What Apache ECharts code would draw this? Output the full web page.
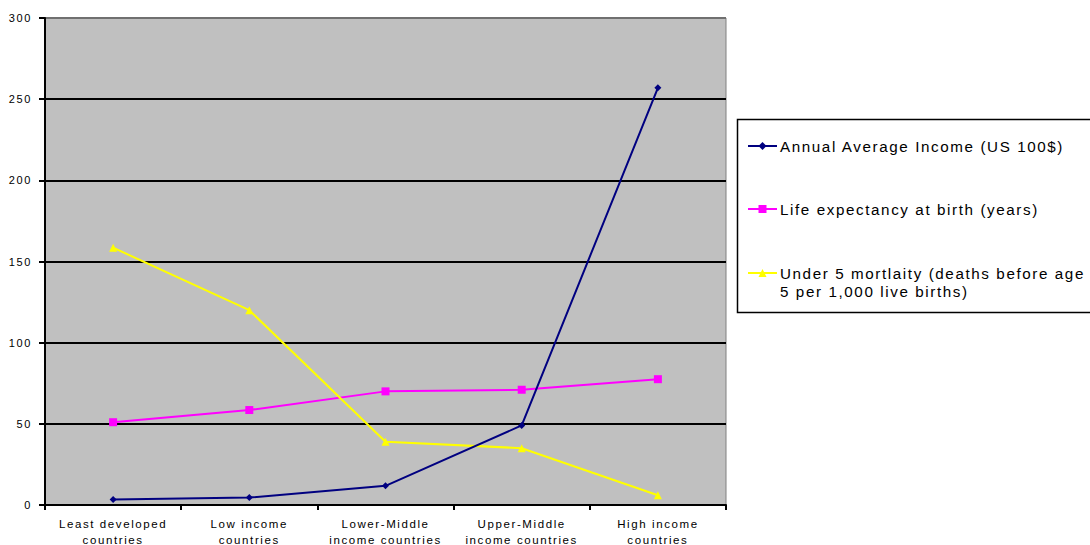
<!DOCTYPE html>
<html>
<head>
<meta charset="utf-8">
<script src="https://cdn.jsdelivr.net/npm/echarts@6/dist/echarts.min.js"></script>
<style>
  html, body { margin: 0; padding: 0; background: #ffffff; }
  #chart { width: 1090px; height: 545px; }
  /* the chart text is set wide, with extra space between letters */
  #chart svg text { letter-spacing: 1.6px; }
</style>
</head>
<body>
<div id="chart"></div>
<script>
// Income groups along the x axis
const categories = [
  'Least developed\ncountries',
  'Low income\ncountries',
  'Lower-Middle\nincome countries',
  'Upper-Middle\nincome countries',
  'High income\ncountries'
];

// Series names
const incomeName = 'Annual Average Income (US 100$)';
const lifeName = 'Life expectancy at birth (years)';
const mortalityName = 'Under 5 mortlaity (deaths before age 5 per 1,000 live births)';

// Values per income group
const income = [3.4, 4.6, 11.8, 49, 257];
const lifeExpectancy = [51, 58.5, 70, 71, 77.5];
const under5Mortality = [158.5, 120, 39, 35, 6];

// Value axis range
const yMin = 0;
const yMax = 300;
const yStep = 50;

const font = '"Liberation Sans", Arial, sans-serif';

const chart = echarts.init(document.getElementById('chart'), null, { renderer: 'svg' });

function legendAt(name, top, formatter) {
  return {
    data: [name],
    left: 747,
    top: top,
    padding: 0,
    itemWidth: 29,
    itemHeight: 10,
    itemGap: 0,
    selectedMode: false,
    formatter: formatter,
    textStyle: {
      fontFamily: font,
      fontSize: 15.2,
      lineHeight: 18,
      color: '#000000',
      padding: [0, 0, 0, -2]
    }
  };
}

chart.setOption({
  animation: false,
  backgroundColor: '#ffffff',
  textStyle: { fontFamily: font },
  grid: {
    left: 45,
    right: 364,
    top: 18,
    bottom: 40,
    outerBoundsMode: 'none',
    containLabel: false,
    show: true,
    backgroundColor: '#c0c0c0',
    borderColor: '#808080',
    borderWidth: 1
  },
  legend: [
    legendAt(incomeName, 137),
    legendAt(lifeName, 200),
    legendAt(mortalityName, 246, function () {
      return '\nUnder 5 mortlaity (deaths before age\n5 per 1,000 live births)';
    })
  ],
  graphic: [{
    type: 'rect',
    shape: { x: 737.5, y: 119.5, width: 380, height: 193 },
    style: { fill: 'none', stroke: '#000000', lineWidth: 1.5 },
    silent: true,
    z: -1
  }],
  xAxis: {
    type: 'category',
    data: categories,
    boundaryGap: true,
    axisLine: { show: true, lineStyle: { color: '#000000', width: 2 } },
    axisTick: { show: true, alignWithLabel: false, length: 5, lineStyle: { color: '#000000', width: 2 } },
    axisLabel: {
      color: '#000000',
      fontSize: 11.5,
      lineHeight: 16,
      margin: 11,
      interval: 0
    },
    splitLine: { show: false }
  },
  yAxis: {
    type: 'value',
    min: yMin,
    max: yMax,
    interval: yStep,
    axisLine: { show: true, lineStyle: { color: '#000000', width: 2 } },
    axisTick: { show: true, length: 6, lineStyle: { color: '#000000', width: 2 } },
    axisLabel: { color: '#000000', fontSize: 11, margin: 13 },
    splitLine: {
      show: true,
      lineStyle: {
        color: ['#000000', '#000000', '#000000', '#000000', '#000000', '#000000', '#707070'],
        width: 2
      }
    }
  },
  series: [
    {
      name: incomeName,
      type: 'line',
      data: income,
      symbol: 'diamond',
      symbolSize: 7,
      lineStyle: { color: '#000080', width: 2 },
      itemStyle: { color: '#000080' },
      z: 3
    },
    {
      name: lifeName,
      type: 'line',
      data: lifeExpectancy,
      symbol: 'rect',
      symbolSize: 8,
      lineStyle: { color: '#ff00ff', width: 2 },
      itemStyle: { color: '#ff00ff' },
      z: 2
    },
    {
      name: mortalityName,
      type: 'line',
      data: under5Mortality,
      symbol: 'triangle',
      symbolSize: 8,
      lineStyle: { color: '#ffff00', width: 2 },
      itemStyle: { color: '#ffff00' },
      z: 2
    }
  ]
});
</script>
</body>
</html>
